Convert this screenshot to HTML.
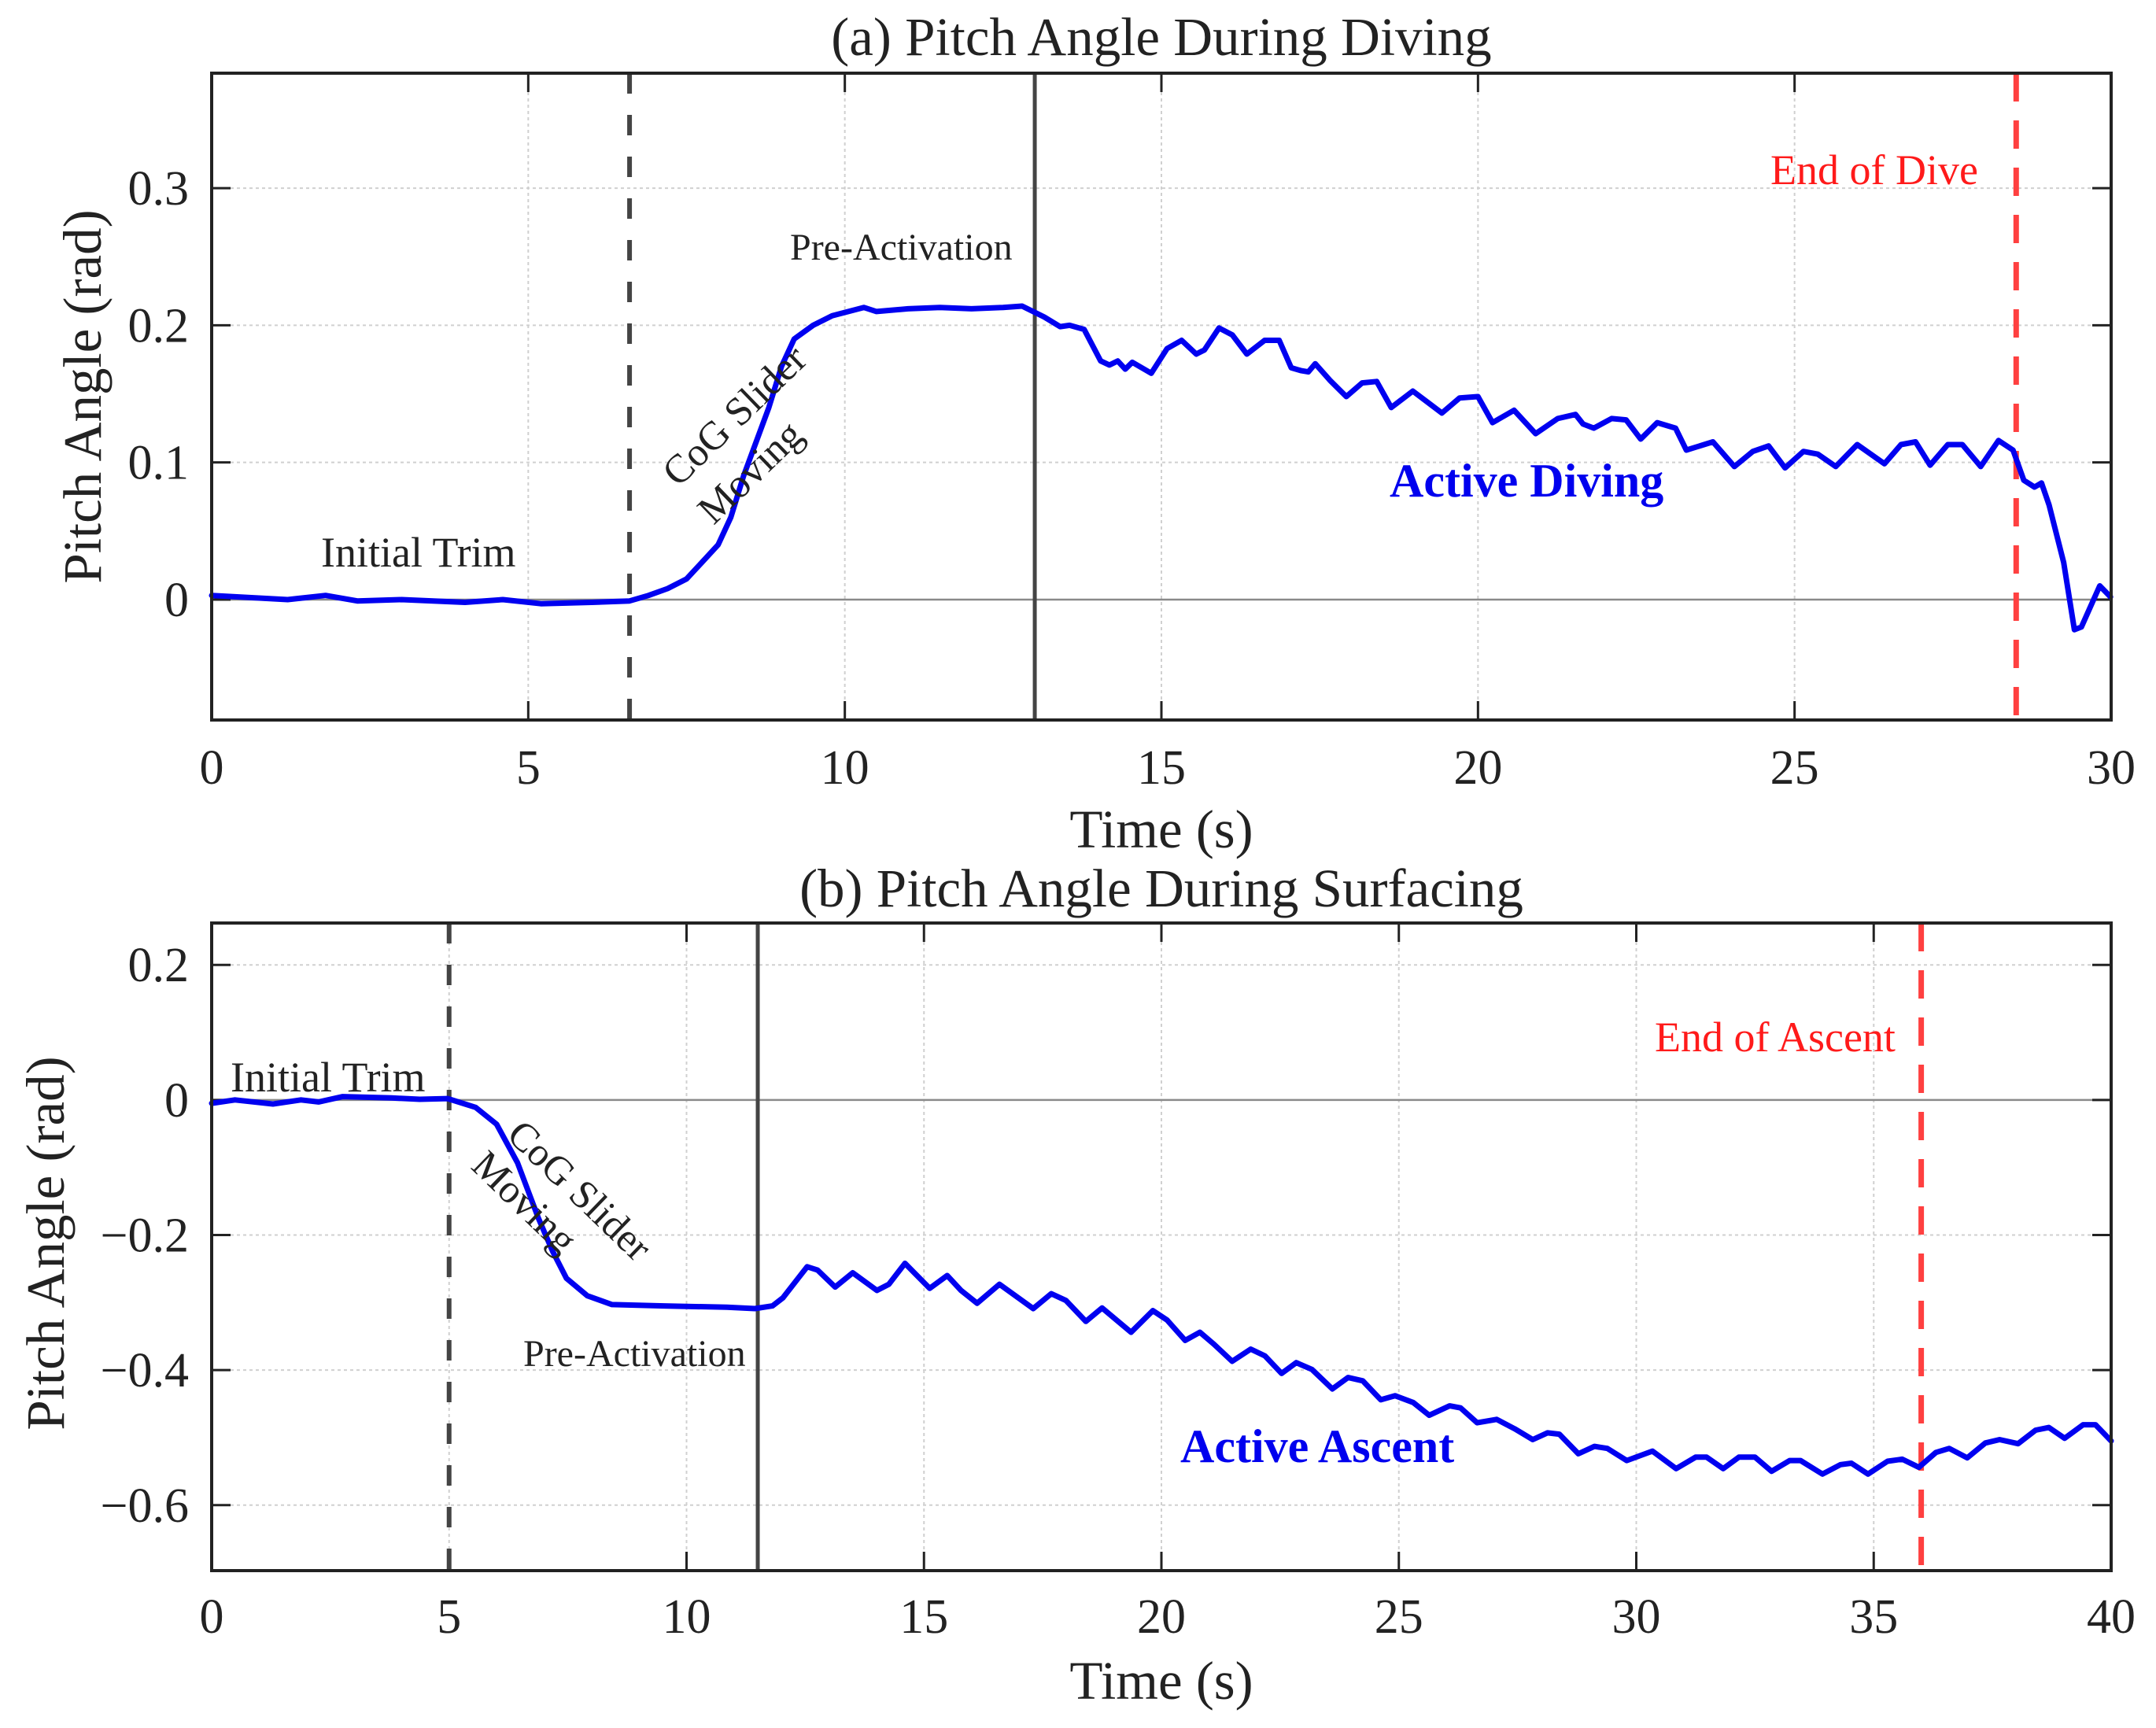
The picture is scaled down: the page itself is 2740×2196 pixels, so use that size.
<!DOCTYPE html>
<html><head><meta charset="utf-8"><style>
html,body{margin:0;padding:0;background:#fff}
svg{display:block}
text{font-family:"Liberation Serif","Times New Roman",serif;fill:#222}
</style></head><body>
<svg id="fig" xmlns="http://www.w3.org/2000/svg" width="2740" height="2196" viewBox="0 0 2740 2196"></svg>
<script>
// Panel (a) data: time (s) and pitch angle (rad)
const timeA = [0,1.2,1.8,2.3,3,4,4.6,5.2,6.0,6.6,6.9,7.2,7.5,7.8,8.0,8.2,8.4,8.6,8.8,9.0,9.2,9.5,9.8,10.3,10.5,11,11.5,12,12.5,12.8,13.15,13.4,13.55,13.78,14.04,14.18,14.31,14.43,14.54,14.84,15.09,15.32,15.55,15.68,15.91,16.12,16.35,16.63,16.86,17.05,17.2,17.32,17.43,17.66,17.92,18.17,18.4,18.63,18.97,19.43,19.71,20.0,20.23,20.57,20.91,21.26,21.54,21.66,21.83,22.11,22.34,22.57,22.83,23.12,23.29,23.71,24.05,24.34,24.59,24.85,25.14,25.37,25.65,25.99,26.42,26.68,26.91,27.14,27.42,27.65,27.94,28.22,28.45,28.62,28.79,28.9,29.02,29.25,29.42,29.53,29.82,29.99];
const pitchA = [0.003,0.0,0.003,-0.001,0.0,-0.002,0.0,-0.003,-0.002,-0.001,0.003,0.008,0.015,0.03,0.04,0.06,0.09,0.115,0.14,0.17,0.19,0.2,0.207,0.213,0.21,0.212,0.213,0.212,0.213,0.214,0.206,0.199,0.2,0.197,0.174,0.171,0.174,0.168,0.173,0.165,0.183,0.189,0.179,0.182,0.198,0.193,0.179,0.189,0.189,0.169,0.167,0.166,0.172,0.16,0.148,0.158,0.159,0.14,0.152,0.136,0.147,0.148,0.129,0.138,0.121,0.132,0.135,0.128,0.125,0.132,0.131,0.117,0.129,0.125,0.109,0.115,0.097,0.108,0.112,0.096,0.108,0.106,0.097,0.113,0.099,0.113,0.115,0.098,0.113,0.113,0.097,0.116,0.109,0.087,0.082,0.085,0.069,0.027,-0.022,-0.02,0.01,0.002];
// Panel (b) data
const timeB = [0,0.49,1.29,1.88,2.25,2.76,3.79,4.38,4.97,5.56,6.0,6.44,6.88,7.18,7.47,7.91,8.43,9.53,10.85,11.44,11.81,12.03,12.54,12.76,13.13,13.5,14.01,14.26,14.6,15.12,15.49,15.78,16.12,16.59,17.3,17.68,17.99,18.41,18.75,19.36,19.82,20.12,20.5,20.81,21.11,21.49,21.88,22.18,22.53,22.84,23.17,23.6,23.93,24.24,24.62,24.92,25.3,25.64,26.07,26.3,26.65,27.06,27.44,27.82,28.13,28.38,28.78,29.12,29.39,29.8,30.34,30.84,31.25,31.48,31.83,32.16,32.5,32.85,33.23,33.46,33.92,34.3,34.53,34.88,35.29,35.6,35.95,36.31,36.59,36.97,37.35,37.65,38.04,38.41,38.69,39.02,39.41,39.67,40.0];
const pitchB = [-0.005,0,-0.006,0,-0.003,0.005,0.003,0.001,0.002,-0.011,-0.036,-0.093,-0.175,-0.224,-0.264,-0.29,-0.303,-0.305,-0.307,-0.309,-0.305,-0.293,-0.247,-0.252,-0.277,-0.256,-0.282,-0.273,-0.242,-0.279,-0.26,-0.282,-0.301,-0.273,-0.309,-0.287,-0.297,-0.328,-0.308,-0.344,-0.312,-0.326,-0.356,-0.344,-0.362,-0.387,-0.369,-0.379,-0.405,-0.389,-0.399,-0.428,-0.411,-0.416,-0.444,-0.438,-0.448,-0.467,-0.453,-0.456,-0.478,-0.473,-0.487,-0.503,-0.493,-0.495,-0.524,-0.513,-0.516,-0.534,-0.52,-0.546,-0.529,-0.529,-0.546,-0.529,-0.529,-0.55,-0.534,-0.534,-0.554,-0.54,-0.538,-0.554,-0.535,-0.532,-0.544,-0.522,-0.516,-0.53,-0.508,-0.503,-0.509,-0.489,-0.485,-0.501,-0.481,-0.481,-0.505];
const xTicksA = [0,5,10,15,20,25,30];
const yTicksA = [0,0.1,0.2,0.3];
const yTickLabelsA = ["0","0.1","0.2","0.3"];
const xTicksB = [0,5,10,15,20,25,30,35,40];
const yTicksB = [-0.6,-0.4,-0.2,0,0.2];
const yTickLabelsB = ["\u22120.6","\u22120.4","\u22120.2","0","0.2"];
const markersA = [6.6, 13, 28.5];
const markersB = [5, 11.5, 36];

const NS = "http://www.w3.org/2000/svg";
const svg = document.getElementById('fig');
function mk(tag, attrs, parent, txt){
  const e = document.createElementNS(NS, tag);
  for (const k in attrs) e.setAttribute(k, attrs[k]);
  if (txt !== undefined) e.textContent = txt;
  (parent||svg).appendChild(e);
  return e;
}

function panel(cfg){
  const g = mk('g', {});
  
  
  const L=269, R=2683, T=cfg.top, B=cfg.bottom;
  const sx = v => L + (v - cfg.xmin)/(cfg.xmax-cfg.xmin)*(R-L);
  const sy = v => B - (v - cfg.ymin)/(cfg.ymax-cfg.ymin)*(B-T);
  cfg.xticks.forEach(t=>{
    if (t===cfg.xmin||t===cfg.xmax) return;
    const l = mk('line',{x1:sx(t),x2:sx(t),y1:T,y2:B,stroke:'#d0d0d0','stroke-width':2,'stroke-dasharray':'4 4'},g);
    
    
  });
  cfg.yticks.forEach(t=>{
    const zero = t===0;
    const l = mk('line',{x1:L,x2:R,y1:sy(t),y2:sy(t),stroke:zero?'#8a8a8a':'#d0d0d0','stroke-width':zero?2.5:2,'stroke-dasharray':zero?'none':'4 4'},g);
    
    
  });
  cfg.xticks.forEach(t=>{
    mk('line',{x1:sx(t),x2:sx(t),y1:B,y2:B-24,stroke:'#222','stroke-width':3},g);
    mk('line',{x1:sx(t),x2:sx(t),y1:T,y2:T+24,stroke:'#222','stroke-width':3},g);
    const tx = mk('text',{x:sx(t),y:cfg.xTickY,'text-anchor':'middle','font-size':62},g,String(t));
    
    
  });
  cfg.yticks.forEach((t,i)=>{
    mk('line',{x1:L,x2:L+24,y1:sy(t),y2:sy(t),stroke:'#222','stroke-width':3},g);
    mk('line',{x1:R,x2:R-24,y1:sy(t),y2:sy(t),stroke:'#222','stroke-width':3},g);
    const tx = mk('text',{x:240,y:sy(t)+21,'text-anchor':'end','font-size':62},g,cfg.ylabels[i]);
    
    
  });
  const mcol = ['#444','#444','#ff4040'];
  const mdash = ['26 27','none','36 24'];
  const mnames = ['cog-start-marker','activation-marker','end-marker'];
  cfg.markers.forEach((m,i)=>{
    const l = mk('line',{x1:sx(m),x2:sx(m),y1:T,y2:B,stroke:mcol[i],'stroke-width':i===2?7:(i===0?6:5),'stroke-dasharray':mdash[i]},g);
    
    
  });
  let d='';
  cfg.t.forEach((t,i)=>{ d += (i?'L':'M') + sx(t).toFixed(1) + ',' + sy(cfg.v[i]).toFixed(1); });
  const p = mk('path',{d:d,fill:'none',stroke:'#0000f0','stroke-width':7,'stroke-linejoin':'round','stroke-linecap':'round'},g);
  
  
  const f = mk('rect',{x:L,y:T,width:R-L,height:B-T,fill:'none',stroke:'#222','stroke-width':4},g);
  
  
  return g;
}

panel({name:'panel-a-diving',top:93,bottom:915,xmin:0,xmax:30,ymin:-0.0878,ymax:0.3838,
  xticks:xTicksA,yticks:yTicksA,ylabels:yTickLabelsA,markers:markersA,t:timeA,v:pitchA,xTickY:996});
panel({name:'panel-b-surfacing',top:1173,bottom:1996,xmin:0,xmax:40,ymin:-0.697,ymax:0.262,
  xticks:xTicksB,yticks:yTicksB,ylabels:yTickLabelsB,markers:markersB,t:timeB,v:pitchB,xTickY:2075});
</script>
<svg style="position:absolute;left:0;top:0" width="2740" height="2196" xmlns="http://www.w3.org/2000/svg">
<text x="1476" y="70" text-anchor="middle" font-size="69">(a) Pitch Angle During Diving</text>
<text x="1476" y="1077" text-anchor="middle" font-size="69">Time (s)</text>
<text transform="translate(105,504) rotate(-90)" text-anchor="middle" font-size="69" dominant-baseline="central">Pitch Angle (rad)</text>
<text x="408" y="720" font-size="54">Initial Trim</text>
<text x="1004" y="330" font-size="48">Pre-Activation</text>
<text transform="translate(945,540) rotate(-44)" text-anchor="middle" font-size="51">CoG Slider</text>
<text transform="translate(965,612) rotate(-44)" text-anchor="middle" font-size="51">Moving</text>
<text x="1766" y="631" font-size="60" font-weight="bold" style="fill:#0000ee">Active Diving</text>
<text x="2250" y="234" font-size="54" style="fill:#ff1a1a">End of Dive</text>

<text x="1476" y="1152" text-anchor="middle" font-size="69">(b) Pitch Angle During Surfacing</text>
<text x="1476" y="2159" text-anchor="middle" font-size="69">Time (s)</text>
<text transform="translate(58,1580) rotate(-90)" text-anchor="middle" font-size="69" dominant-baseline="central">Pitch Angle (rad)</text>
<text x="293" y="1387" font-size="54">Initial Trim</text>
<text x="665" y="1736" font-size="48">Pre-Activation</text>
<text transform="translate(725,1525) rotate(44)" text-anchor="middle" font-size="51">CoG Slider</text>
<text transform="translate(655,1540) rotate(44)" text-anchor="middle" font-size="51">Moving</text>
<text x="1500" y="1858" font-size="60" font-weight="bold" style="fill:#0000ee">Active Ascent</text>
<text x="2103" y="1336" font-size="54" style="fill:#ff1a1a">End of Ascent</text>
</svg>
</body></html>
